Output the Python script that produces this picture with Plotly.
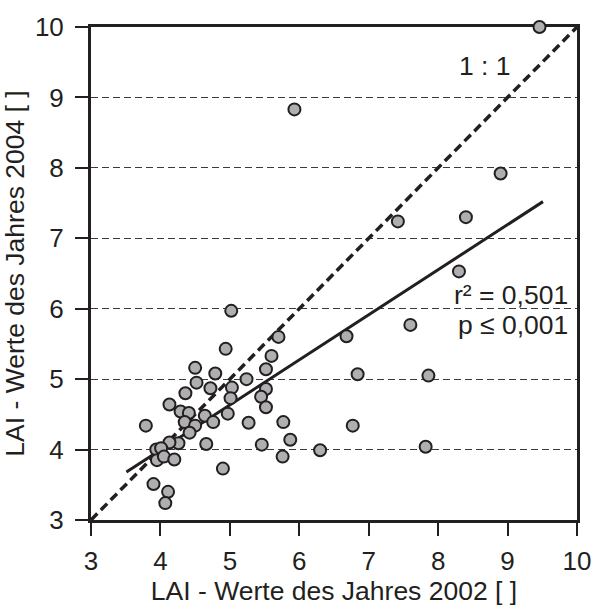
import plotly.graph_objects as go

# LAI per plot: 2002 (x) vs 2004 (y)
lai_2002 = [9.46, 5.93, 8.90, 7.42, 8.40, 8.30, 7.60, 6.68, 6.84, 7.86,
            6.77, 6.30, 7.82, 5.02, 5.70, 4.94, 5.60, 5.52, 4.50, 4.79,
            5.24, 4.52, 4.72, 5.03, 5.52, 5.01, 5.45, 4.36, 4.13, 5.52,
            4.29, 4.41, 4.64, 4.97, 4.76, 5.27, 5.77, 4.35, 4.50, 4.42,
            3.79, 5.87, 5.46, 4.66, 4.26, 4.13, 3.94, 4.01, 3.95, 4.05,
            4.20, 5.76, 4.90, 3.90, 4.11, 4.07]
lai_2004 = [10.00, 8.83, 7.92, 7.24, 7.30, 6.53, 5.77, 5.61, 5.07, 5.05,
            4.34, 3.99, 4.04, 5.97, 5.60, 5.43, 5.33, 5.14, 5.16, 5.08,
            5.00, 4.95, 4.87, 4.88, 4.86, 4.73, 4.75, 4.80, 4.64, 4.60,
            4.54, 4.52, 4.48, 4.51, 4.39, 4.38, 4.39, 4.39, 4.34, 4.24,
            4.34, 4.14, 4.07, 4.08, 4.09, 4.10, 4.00, 4.02, 3.85, 3.90,
            3.86, 3.90, 3.73, 3.51, 3.40, 3.24]

# linear regression line (2004 on 2002)
fit_slope = 0.64
fit_intercept = 1.434
fit_x = [3.51, 9.51]
fit_r2_text = "r² = 0,501"
fit_p_text = "p ≤ 0,001"

# 1:1 reference and axis range
one_to_one = [3, 10]
axis_range = [3, 10]
tick_vals = [3, 4, 5, 6, 7, 8, 9, 10]

INK = "#231f20"
FONT = "Liberation Sans, Arial, sans-serif"

fig = go.Figure()

fig.add_trace(go.Scatter(
    x=one_to_one, y=one_to_one, mode="lines",
    line=dict(color=INK, width=3.5, dash="9px,5px"),
    hoverinfo="skip", showlegend=False,
))

fig.add_trace(go.Scatter(
    x=fit_x, y=[fit_intercept + fit_slope * v for v in fit_x], mode="lines",
    line=dict(color=INK, width=3),
    hoverinfo="skip", showlegend=False,
))

fig.add_trace(go.Scatter(
    x=lai_2002, y=lai_2004, mode="markers",
    marker=dict(size=12, color="#afafb2", line=dict(color=INK, width=2)),
    cliponaxis=False, showlegend=False,
))

axis_common = dict(
    range=axis_range, tickvals=tick_vals, showline=True, mirror=True,
    linecolor=INK, linewidth=3, ticks="outside", ticklen=13, tickwidth=2,
    tickcolor=INK, zeroline=False, layer="below traces",
    tickfont=dict(family=FONT, size=26, color=INK),
    title_font=dict(family=FONT, size=26.5, color=INK),
)

fig.update_xaxes(
    **axis_common, showgrid=False, ticklabelstandoff=3,
    title_text="LAI - Werte des Jahres 2002 [ ]", title_standoff=2,
)
fig.update_yaxes(
    **axis_common, showgrid=True, gridcolor="#3a3a3a", gridwidth=1.3,
    griddash="7px,4px", ticklabelstandoff=6,
    title_text="LAI - Werte des Jahres 2004 [ ]", title_standoff=4,
)

ann_font = dict(family=FONT, size=26.5, color=INK)
fig.add_annotation(x=8.67, y=9.45, text="1 : 1", showarrow=False, font=ann_font)
fig.add_annotation(x=9.90, y=6.20, text=fit_r2_text, showarrow=False,
                   xanchor="right", yanchor="middle", font=ann_font)
fig.add_annotation(x=9.90, y=5.77, text=fit_p_text, showarrow=False,
                   xanchor="right", yanchor="middle", font=ann_font)

fig.update_layout(
    width=603, height=610,
    margin=dict(l=91, r=16, t=24, b=90),
    paper_bgcolor="white", plot_bgcolor="white",
    showlegend=False,
)

fig.write_html("out.html")
